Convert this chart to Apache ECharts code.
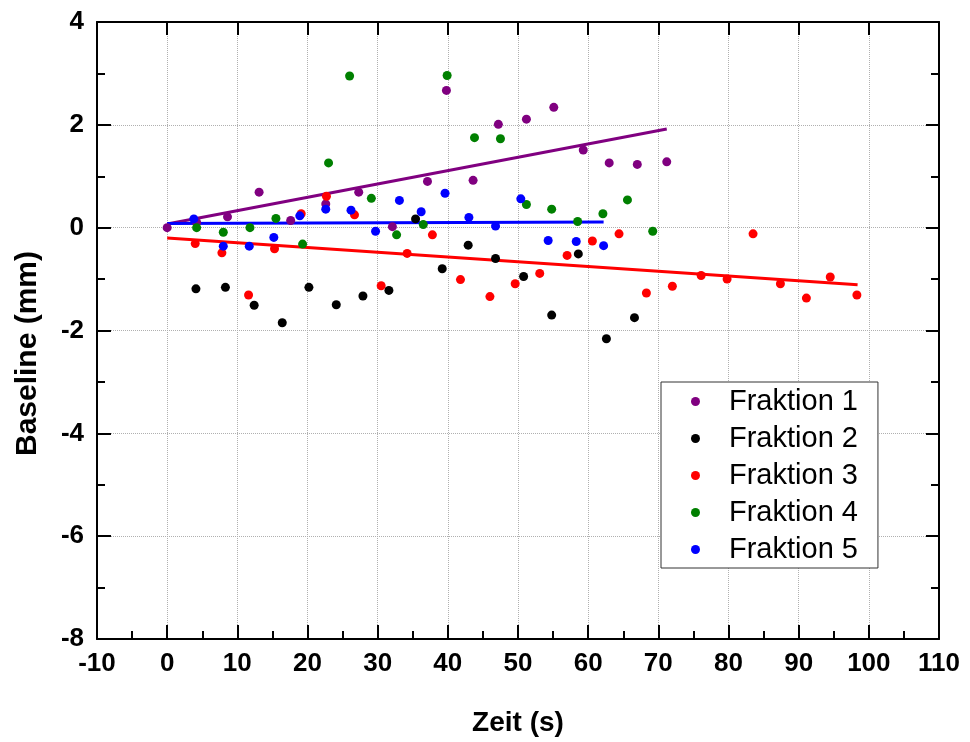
<!DOCTYPE html>
<html>
<head>
<meta charset="utf-8">
<script src="https://cdn.jsdelivr.net/npm/echarts@6/dist/echarts.min.js"></script>
<style>html,body{margin:0;padding:0;background:#fff}#c{width:970px;height:742px}</style>
</head>
<body>
<div id="c"></div>
<script>
// Series data: [time (s), baseline (mm)]
const seriesNames = ['Fraktion 1', 'Fraktion 2', 'Fraktion 3', 'Fraktion 4', 'Fraktion 5'];
const seriesColors = ['#800080', '#000000', '#ff0000', '#008000', '#0000ff'];

const fraktion1 = [[0,0],[4.2,0.10],[8.6,0.21],[13.1,0.69],[17.6,0.14],[22.6,0.46],[27.3,0.69],[32.1,0.02],[37.1,0.90],[39.8,2.67],[43.6,0.92],[47.2,2.01],[51.2,2.11],[55.1,2.34],[59.3,1.51],[63.0,1.26],[67.0,1.23],[71.2,1.28]];
const fraktion2 = [[4.1,-1.19],[8.3,-1.16],[12.4,-1.51],[16.4,-1.85],[20.2,-1.16],[24.1,-1.50],[27.9,-1.33],[31.6,-1.22],[35.4,0.17],[39.2,-0.80],[42.9,-0.34],[46.8,-0.60],[50.8,-0.95],[54.8,-1.70],[58.6,-0.51],[62.6,-2.16],[66.6,-1.75]];
const fraktion3 = [[4.0,-0.31],[7.8,-0.49],[11.6,-1.31],[15.3,-0.41],[19.1,0.27],[22.7,0.61],[26.7,0.25],[30.5,-1.13],[34.2,-0.50],[37.8,-0.14],[41.8,-1.01],[46.0,-1.34],[49.6,-1.09],[53.1,-0.89],[57.0,-0.54],[60.6,-0.26],[64.4,-0.12],[68.3,-1.27],[72.0,-1.14],[76.1,-0.93],[79.8,-1.00],[83.5,-0.12],[87.4,-1.09],[91.1,-1.37],[94.5,-0.96],[98.3,-1.31]];
const fraktion4 = [[4.2,0.00],[8.0,-0.09],[11.8,0.00],[15.5,0.18],[19.3,-0.32],[23.0,1.26],[26.0,2.95],[29.1,0.57],[32.7,-0.14],[36.5,0.06],[39.9,2.96],[43.8,1.75],[47.5,1.73],[51.2,0.45],[54.8,0.36],[58.5,0.12],[62.1,0.27],[65.6,0.54],[69.2,-0.07]];
const fraktion5 = [[3.8,0.17],[8.0,-0.36],[11.7,-0.36],[15.2,-0.19],[18.9,0.23],[22.6,0.36],[26.2,0.34],[29.7,-0.07],[33.1,0.53],[36.2,0.31],[39.6,0.67],[43.0,0.20],[46.8,0.03],[50.4,0.56],[54.3,-0.25],[58.3,-0.27],[62.2,-0.35]];

// Linear fit lines (end points)
const fit1 = [[0,0.07],[71.2,1.92]];
const fit3 = [[0,-0.20],[98.4,-1.11]];
const fit5 = [[0,0.08],[62.2,0.11]];

const xTicks = {min: -10, max: 110, interval: 10};
const yTicks = {min: -8, max: 4, interval: 2};

const font = 'Liberation Sans, Arial, sans-serif';
const chart = echarts.init(document.getElementById('c'));

const scatterData = [fraktion1, fraktion2, fraktion3, fraktion4, fraktion5];
const series = [];
scatterData.forEach((d, i) => {
  series.push({
    name: seriesNames[i], type: 'scatter', data: d, symbol: 'circle', symbolSize: 9,
    itemStyle: {color: seriesColors[i], opacity: 1}, z: 3
  });
});
[[fit1, 0], [fit3, 2], [fit5, 4]].forEach(([d, i]) => {
  series.push({
    name: seriesNames[i] + ' fit', type: 'line', data: d, symbol: 'none', silent: true,
    lineStyle: {color: seriesColors[i], width: 3}, z: 2
  });
});

chart.setOption({
  animation: false,
  backgroundColor: '#fff',
  grid: {left: 97, right: 31, top: 22, bottom: 101},
  legend: {
    data: seriesNames, orient: 'vertical', left: 661, top: 382,
    backgroundColor: '#fff', borderColor: '#333', borderWidth: 1,
    padding: [5, 20, 4, 30], itemGap: 8, icon: 'circle', itemWidth: 9, itemHeight: 9,
    textStyle: {fontFamily: font, fontSize: 29, color: '#000', lineHeight: 28, padding: [0, 0, 0, 24]}
  },
  xAxis: [{
    type: 'value', min: xTicks.min, max: xTicks.max, interval: xTicks.interval, position: 'bottom',
    name: 'Zeit (s)', nameLocation: 'middle', nameGap: 70,
    nameTextStyle: {fontFamily: font, fontSize: 28, fontWeight: 'bold', color: '#000'},
    axisLine: {onZero: false, lineStyle: {color: '#000', width: 2}},
    axisTick: {inside: true, length: 14, lineStyle: {color: '#000', width: 2}},
    minorTick: {show: true, splitNumber: 2, length: 8, lineStyle: {color: '#000', width: 2}},
    axisLabel: {fontFamily: font, fontSize: 26, fontWeight: 'bold', color: '#000', margin: 12},
    splitLine: {show: true, lineStyle: {type: 'dotted', color: '#b0b0b0', width: 1}}
  }, {
    type: 'value', min: xTicks.min, max: xTicks.max, interval: xTicks.interval, position: 'top',
    axisLine: {onZero: false, lineStyle: {color: '#000', width: 2}},
    axisTick: {inside: true, length: 13, lineStyle: {color: '#000', width: 2}},
    axisLabel: {show: false}, splitLine: {show: false}
  }],
  yAxis: [{
    type: 'value', min: yTicks.min, max: yTicks.max, interval: yTicks.interval, position: 'left',
    name: 'Baseline (mm)', nameLocation: 'middle', nameGap: 54,
    nameTextStyle: {fontFamily: font, fontSize: 30, fontWeight: 'bold', color: '#000', padding: [0, 46, 0, 0]},
    axisLine: {onZero: false, lineStyle: {color: '#000', width: 2}},
    axisTick: {inside: true, length: 14, lineStyle: {color: '#000', width: 2}},
    minorTick: {show: true, splitNumber: 2, length: 8, lineStyle: {color: '#000', width: 2}},
    axisLabel: {fontFamily: font, fontSize: 26, fontWeight: 'bold', color: '#000', margin: 13},
    splitLine: {show: true, lineStyle: {type: 'dotted', color: '#b0b0b0', width: 1}}
  }, {
    type: 'value', min: yTicks.min, max: yTicks.max, interval: yTicks.interval, position: 'right',
    axisLine: {onZero: false, lineStyle: {color: '#000', width: 2}},
    axisTick: {inside: true, length: 13, lineStyle: {color: '#000', width: 2}},
    minorTick: {show: true, splitNumber: 2, length: 8, lineStyle: {color: '#000', width: 2}},
    axisLabel: {show: false}, splitLine: {show: false}
  }],
  series: series
});
</script>
</body>
</html>
